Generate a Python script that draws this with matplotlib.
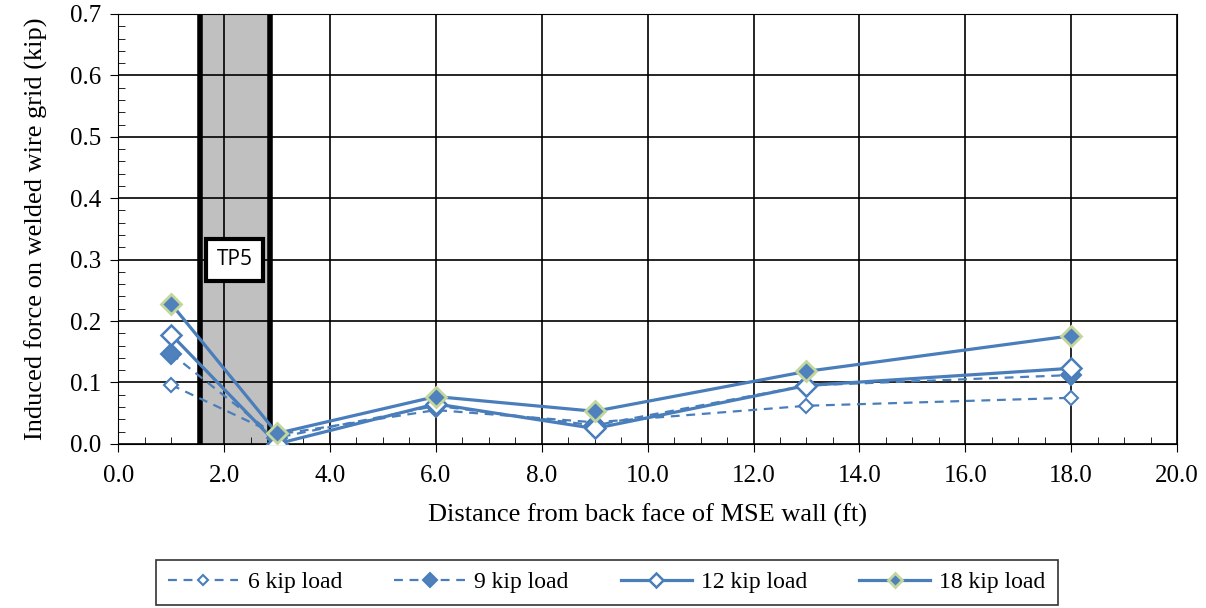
import numpy as np
import matplotlib.pyplot as plt
from matplotlib.ticker import MultipleLocator

plt.rcParams['font.family'] = ['Liberation Serif', 'DejaVu Serif']

dist = [1, 3, 6, 9, 13, 18]
load6 = [0.096, 0.015, 0.055, 0.035, 0.062, 0.075]
load9 = [0.147, 0.010, 0.062, 0.030, 0.095, 0.112]
load12 = [0.178, 0.000, 0.065, 0.025, 0.095, 0.123]
load18 = [0.228, 0.017, 0.077, 0.053, 0.118, 0.176]
tp5 = [1.55, 2.87]

blue = '#4A7EBB'
fill = '#4F81BD'
green = '#C3D69B'

fig = plt.figure(figsize=(12.06, 6.08), dpi=100)
ax = fig.add_axes([0.098, 0.270, 0.878, 0.707])

ax.axvspan(tp5[0], tp5[1], color='#C0C0C0', zorder=0)
for x in tp5:
    ax.axvline(x, color='black', lw=4, zorder=1)

ax.plot(dist, load6, ls='--', dashes=(4, 3), color=blue, lw=1.6, marker='D',
        ms=7, mfc='white', mec=blue, mew=1.5, label='6 kip load', zorder=3)
ax.plot(dist, load9, ls='--', dashes=(4, 3), color=blue, lw=1.6, marker='D',
        ms=10, mfc=fill, mec=blue, mew=1.5, label='9 kip load', zorder=3)
ax.plot(dist, load12, ls='-', color=blue, lw=2.3, marker='D',
        ms=10, mfc='white', mec=blue, mew=1.8, label='12 kip load', zorder=3)
ax.plot(dist, load18, ls='-', color=blue, lw=2.3, marker='D',
        ms=10, mfc=fill, mec=green, mew=2, label='18 kip load', zorder=4)

ax.text(2.2, 0.3, 'TP5', family=['Open Sans', 'DejaVu Sans'], fontsize=15,
        ha='center', va='center',
        bbox=dict(boxstyle='square,pad=0.5', fc='white', ec='black', lw=3), zorder=5)

ax.set_xlim(0, 20)
ax.set_ylim(0, 0.7)
ax.xaxis.set_major_locator(MultipleLocator(2))
ax.xaxis.set_minor_locator(MultipleLocator(0.5))
ax.yaxis.set_major_locator(MultipleLocator(0.1))
ax.yaxis.set_minor_locator(MultipleLocator(0.02))
ax.set_xticklabels([f'{v:.1f}' for v in ax.get_xticks()])
ax.set_yticklabels([f'{v:.1f}' for v in ax.get_yticks()])
ax.tick_params(which='major', direction='out', length=6, labelsize=18)
ax.tick_params(axis='x', which='major', pad=9)
ax.tick_params(axis='y', which='major', pad=6)
ax.tick_params(which='minor', direction='in', length=5)
ax.grid(True, which='major', color='black', lw=1.2)
for s in ax.spines.values():
    s.set_color('black')

ax.set_xlabel('Distance from back face of MSE wall (ft)', fontsize=19, labelpad=12)
ax.set_ylabel('Induced force on welded wire grid (kip)', fontsize=19, labelpad=16)

leg = fig.legend(loc='center', bbox_to_anchor=(0.503, 0.042), ncol=4, fontsize=17,
                 frameon=True, fancybox=False, edgecolor='black', handlelength=3.0,
                 columnspacing=2.2, markerscale=0.75, borderpad=0.5, handletextpad=0.4)
leg.get_frame().set_linewidth(1.2)

fig.savefig('out.png', dpi=100)
